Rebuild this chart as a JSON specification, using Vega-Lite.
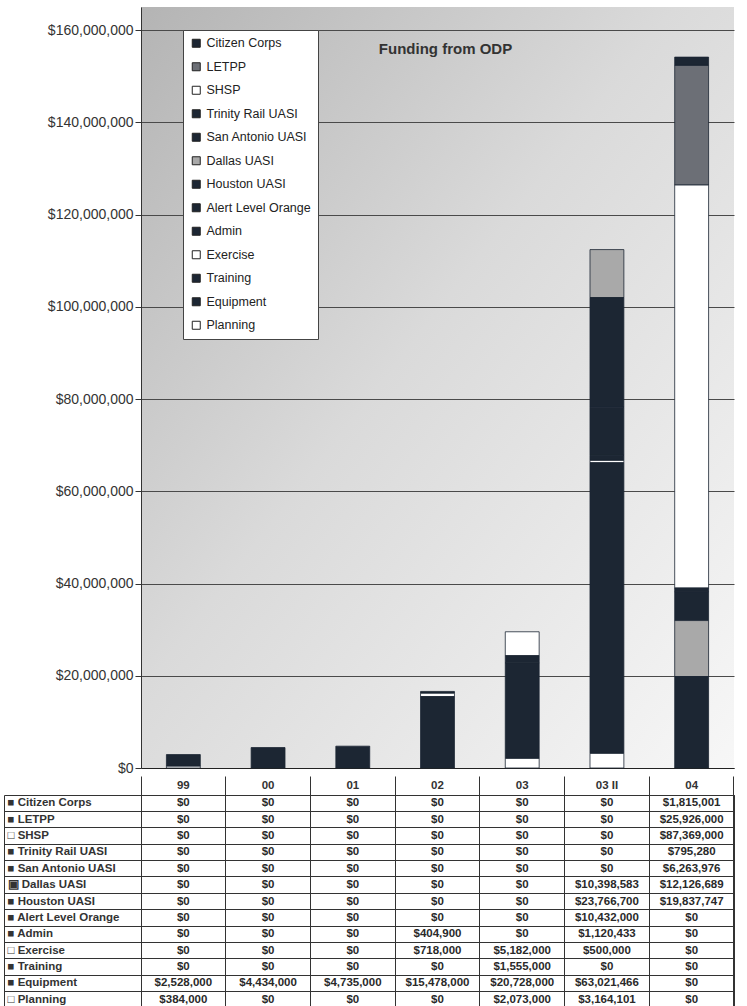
{
  "$schema": "https://vega.github.io/schema/vega-lite/v6.json",
  "padding": {"left": 3, "top": 7, "right": 0, "bottom": 0},
  "background": "white",
  "spacing": 0,
  "config": {
    "font": "Liberation Sans",
    "axis": {"labelFont": "Liberation Sans", "titleFont": "Liberation Sans"},
    "legend": {"labelFont": "Liberation Sans"}
  },
  "datasets": {
    "funding": [
      {"year": "99", "series": "Citizen Corps", "value": 0},
      {"year": "99", "series": "LETPP", "value": 0},
      {"year": "99", "series": "SHSP", "value": 0},
      {"year": "99", "series": "Trinity Rail UASI", "value": 0},
      {"year": "99", "series": "San Antonio UASI", "value": 0},
      {"year": "99", "series": "Dallas UASI", "value": 0},
      {"year": "99", "series": "Houston UASI", "value": 0},
      {"year": "99", "series": "Alert Level Orange", "value": 0},
      {"year": "99", "series": "Admin", "value": 0},
      {"year": "99", "series": "Exercise", "value": 0},
      {"year": "99", "series": "Training", "value": 0},
      {"year": "99", "series": "Equipment", "value": 2528000},
      {"year": "99", "series": "Planning", "value": 384000},
      {"year": "00", "series": "Citizen Corps", "value": 0},
      {"year": "00", "series": "LETPP", "value": 0},
      {"year": "00", "series": "SHSP", "value": 0},
      {"year": "00", "series": "Trinity Rail UASI", "value": 0},
      {"year": "00", "series": "San Antonio UASI", "value": 0},
      {"year": "00", "series": "Dallas UASI", "value": 0},
      {"year": "00", "series": "Houston UASI", "value": 0},
      {"year": "00", "series": "Alert Level Orange", "value": 0},
      {"year": "00", "series": "Admin", "value": 0},
      {"year": "00", "series": "Exercise", "value": 0},
      {"year": "00", "series": "Training", "value": 0},
      {"year": "00", "series": "Equipment", "value": 4434000},
      {"year": "00", "series": "Planning", "value": 0},
      {"year": "01", "series": "Citizen Corps", "value": 0},
      {"year": "01", "series": "LETPP", "value": 0},
      {"year": "01", "series": "SHSP", "value": 0},
      {"year": "01", "series": "Trinity Rail UASI", "value": 0},
      {"year": "01", "series": "San Antonio UASI", "value": 0},
      {"year": "01", "series": "Dallas UASI", "value": 0},
      {"year": "01", "series": "Houston UASI", "value": 0},
      {"year": "01", "series": "Alert Level Orange", "value": 0},
      {"year": "01", "series": "Admin", "value": 0},
      {"year": "01", "series": "Exercise", "value": 0},
      {"year": "01", "series": "Training", "value": 0},
      {"year": "01", "series": "Equipment", "value": 4735000},
      {"year": "01", "series": "Planning", "value": 0},
      {"year": "02", "series": "Citizen Corps", "value": 0},
      {"year": "02", "series": "LETPP", "value": 0},
      {"year": "02", "series": "SHSP", "value": 0},
      {"year": "02", "series": "Trinity Rail UASI", "value": 0},
      {"year": "02", "series": "San Antonio UASI", "value": 0},
      {"year": "02", "series": "Dallas UASI", "value": 0},
      {"year": "02", "series": "Houston UASI", "value": 0},
      {"year": "02", "series": "Alert Level Orange", "value": 0},
      {"year": "02", "series": "Admin", "value": 404900},
      {"year": "02", "series": "Exercise", "value": 718000},
      {"year": "02", "series": "Training", "value": 0},
      {"year": "02", "series": "Equipment", "value": 15478000},
      {"year": "02", "series": "Planning", "value": 0},
      {"year": "03", "series": "Citizen Corps", "value": 0},
      {"year": "03", "series": "LETPP", "value": 0},
      {"year": "03", "series": "SHSP", "value": 0},
      {"year": "03", "series": "Trinity Rail UASI", "value": 0},
      {"year": "03", "series": "San Antonio UASI", "value": 0},
      {"year": "03", "series": "Dallas UASI", "value": 0},
      {"year": "03", "series": "Houston UASI", "value": 0},
      {"year": "03", "series": "Alert Level Orange", "value": 0},
      {"year": "03", "series": "Admin", "value": 0},
      {"year": "03", "series": "Exercise", "value": 5182000},
      {"year": "03", "series": "Training", "value": 1555000},
      {"year": "03", "series": "Equipment", "value": 20728000},
      {"year": "03", "series": "Planning", "value": 2073000},
      {"year": "03 II", "series": "Citizen Corps", "value": 0},
      {"year": "03 II", "series": "LETPP", "value": 0},
      {"year": "03 II", "series": "SHSP", "value": 0},
      {"year": "03 II", "series": "Trinity Rail UASI", "value": 0},
      {"year": "03 II", "series": "San Antonio UASI", "value": 0},
      {"year": "03 II", "series": "Dallas UASI", "value": 10398583},
      {"year": "03 II", "series": "Houston UASI", "value": 23766700},
      {"year": "03 II", "series": "Alert Level Orange", "value": 10432000},
      {"year": "03 II", "series": "Admin", "value": 1120433},
      {"year": "03 II", "series": "Exercise", "value": 500000},
      {"year": "03 II", "series": "Training", "value": 0},
      {"year": "03 II", "series": "Equipment", "value": 63021466},
      {"year": "03 II", "series": "Planning", "value": 3164101},
      {"year": "04", "series": "Citizen Corps", "value": 1815001},
      {"year": "04", "series": "LETPP", "value": 25926000},
      {"year": "04", "series": "SHSP", "value": 87369000},
      {"year": "04", "series": "Trinity Rail UASI", "value": 795280},
      {"year": "04", "series": "San Antonio UASI", "value": 6263976},
      {"year": "04", "series": "Dallas UASI", "value": 12126689},
      {"year": "04", "series": "Houston UASI", "value": 19837747},
      {"year": "04", "series": "Alert Level Orange", "value": 0},
      {"year": "04", "series": "Admin", "value": 0},
      {"year": "04", "series": "Exercise", "value": 0},
      {"year": "04", "series": "Training", "value": 0},
      {"year": "04", "series": "Equipment", "value": 0},
      {"year": "04", "series": "Planning", "value": 0}
    ],
    "titletext": [{"label": "Funding from ODP"}]
  },
  "vconcat": [
    {
      "width": 593,
      "height": 761,
      "view": {
        "stroke": null,
        "fill": {
          "gradient": "linear",
          "x1": 0, "y1": 0, "x2": 1, "y2": 1,
          "stops": [
            {"offset": 0, "color": "#b4b4b4"},
            {"offset": 0.45, "color": "#dadada"},
            {"offset": 1, "color": "#f7f7f7"}
          ]
        }
      },
      "layer": [
        {
          "data": {"name": "funding"},
          "transform": [
            {"filter": "datum.value > 0"},
            {"calculate": "indexof(['Planning','Equipment','Training','Exercise','Admin','Alert Level Orange','Houston UASI','Dallas UASI','San Antonio UASI','Trinity Rail UASI','SHSP','LETPP','Citizen Corps'], datum.series)", "as": "stackorder"}
          ],
          "mark": {"type": "bar", "stroke": "#1c2633", "strokeWidth": 0.8},
          "encoding": {
            "x": {
              "field": "year", "type": "nominal",
              "sort": ["99", "00", "01", "02", "03", "03 II", "04"],
              "scale": {"domain": ["99", "00", "01", "02", "03", "03 II", "04"], "paddingInner": 0.6, "paddingOuter": 0.3},
              "axis": {"title": null, "labels": false, "ticks": false, "domain": true, "domainColor": "#222", "grid": false}
            },
            "y": {
              "field": "value", "type": "quantitative", "stack": "zero",
              "scale": {"domain": [0, 165000000], "nice": false},
              "axis": {
                "title": null,
                "values": [0, 20000000, 40000000, 60000000, 80000000, 100000000, 120000000, 140000000, 160000000],
                "format": "$,.0f",
                "labelFontSize": 14,
                "labelColor": "#333",
                "tickColor": "#333",
                "tickSize": 6,
                "labelPadding": 2,
                "domainColor": "#333",
                "grid": true,
                "gridColor": "#4a4a4a",
                "gridWidth": 1
              }
            },
            "color": {
              "field": "series", "type": "nominal",
              "scale": {
                "domain": ["Citizen Corps", "LETPP", "SHSP", "Trinity Rail UASI", "San Antonio UASI", "Dallas UASI", "Houston UASI", "Alert Level Orange", "Admin", "Exercise", "Training", "Equipment", "Planning"],
                "range": ["#1c2633", "#6c6f76", "#ffffff", "#1c2633", "#1c2633", "#a9a9a9", "#1c2633", "#1c2633", "#1c2633", "#ffffff", "#1c2633", "#1c2633", "#ffffff"]
              },
              "legend": {
                "title": null,
                "orient": "none",
                "legendX": 42,
                "legendY": 23,
                "symbolType": "square",
                "symbolSize": 64,
                "symbolStrokeColor": "#222",
                "symbolStrokeWidth": 1,
                "symbolOpacity": 1,
                "labelFontSize": 12.5,
                "labelColor": "#222",
                "labelLimit": 200,
                "rowPadding": 10.5,
                "padding": 7,
                "fillColor": "#ffffff",
                "strokeColor": "#444"
              }
            },
            "order": {"field": "stackorder", "type": "quantitative", "sort": "ascending"}
          }
        },
        {
          "data": {"name": "titletext"},
          "mark": {"type": "text", "font": "Liberation Sans", "fontWeight": "bold", "fontSize": 15, "color": "#333", "dx": 8, "baseline": "middle"},
          "encoding": {
            "x": {"datum": "02", "type": "nominal"},
            "y": {"datum": 156000000, "type": "quantitative"},
            "text": {"field": "label", "type": "nominal"}
          }
        }
      ]
    },
    {
      "data": {"name": "funding"},
      "width": 593,
      "height": 213,
      "view": {"stroke": "#333", "strokeWidth": 1},
      "layer": [
        {
          "mark": {"type": "rect", "opacity": 0},
          "encoding": {
            "x": {
              "field": "year", "type": "nominal",
              "sort": ["99", "00", "01", "02", "03", "03 II", "04"],
              "scale": {"paddingInner": 0, "paddingOuter": 0},
              "axis": {
                "title": null, "orient": "top",
                "ticks": false, "domain": false, "grid": false,
                "labelPadding": 5,
                "labelFont": "Liberation Sans", "labelFontWeight": "bold", "labelFontSize": 11.5, "labelColor": "#333",
                "labelAngle": 0
              }
            },
            "y": {
              "field": "series", "type": "nominal",
              "sort": ["Citizen Corps", "LETPP", "SHSP", "Trinity Rail UASI", "San Antonio UASI", "Dallas UASI", "Houston UASI", "Alert Level Orange", "Admin", "Exercise", "Training", "Equipment", "Planning"],
              "scale": {"paddingInner": 0, "paddingOuter": 0},
              "axis": {
                "title": null, "orient": "left", "offset": 137,
                "ticks": false, "grid": false,
                "domain": true, "domainColor": "#333",
                "labelAlign": "left", "labelPadding": -3,
                "labelFont": "Liberation Sans", "labelFontWeight": "bold", "labelFontSize": 11.5, "labelColor": "#333",
                "labelLimit": 200,
                "labelExpr": "(indexof(['SHSP','Exercise','Planning'], datum.value) >= 0 ? '□ ' : (datum.value == 'Dallas UASI' ? '▣ ' : '■ ')) + datum.value"
              }
            }
          }
        },
        {
          "mark": {"type": "text", "font": "Liberation Sans", "fontWeight": "bold", "fontSize": 11.5, "color": "#2a2a2a"},
          "encoding": {
            "x": {
              "field": "year", "type": "nominal",
              "sort": ["99", "00", "01", "02", "03", "03 II", "04"],
              "scale": {"paddingInner": 0, "paddingOuter": 0},
              "axis": {
                "title": null, "orient": "top",
                "bandPosition": 1, "tickExtra": true,
                "tickSize": 19, "tickColor": "#333",
                "labels": false,
                "domain": true, "domainColor": "#333",
                "grid": true, "gridColor": "#333"
              }
            },
            "y": {
              "field": "series", "type": "nominal",
              "sort": ["Citizen Corps", "LETPP", "SHSP", "Trinity Rail UASI", "San Antonio UASI", "Dallas UASI", "Houston UASI", "Alert Level Orange", "Admin", "Exercise", "Training", "Equipment", "Planning"],
              "scale": {"paddingInner": 0, "paddingOuter": 0},
              "axis": {
                "title": null, "orient": "left",
                "bandPosition": 1, "tickExtra": true,
                "ticks": true, "tickSize": 137, "tickColor": "#333",
                "labels": false, "domain": false,
                "grid": true, "gridColor": "#333"
              }
            },
            "text": {"field": "value", "type": "quantitative", "format": "$,.0f"}
          }
        }
      ],
      "resolve": {"axis": {"x": "independent", "y": "independent"}}
    }
  ]
}
